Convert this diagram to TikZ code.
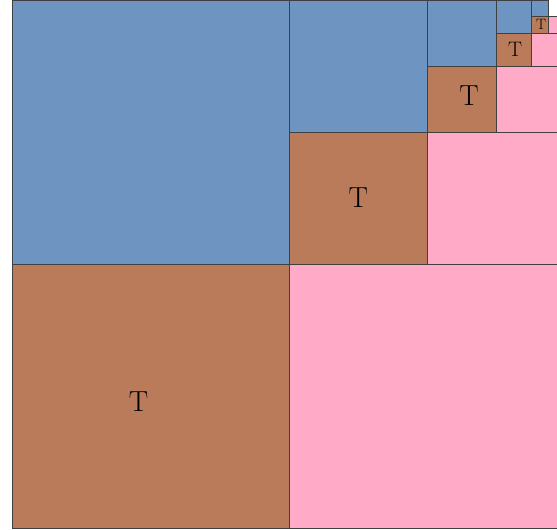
\documentclass[tikz,border=0pt]{standalone}
\usetikzlibrary{positioning}
\definecolor{cellblue}{HTML}{6E94C1}
\definecolor{cellbrown}{HTML}{B97B5A}
\definecolor{cellpink}{HTML}{FFAAC7}

\begin{document}
\begin{tikzpicture}[x=1pt, y=-1pt]
\tikzstyle{cell} = [rectangle, draw=black!75, line width=1pt,
    inner sep=0pt, outer sep=0pt, anchor=north west]
\tikzstyle{upper} = [cell, fill=cellblue]
\tikzstyle{tee} = [cell, fill=cellbrown]
\tikzstyle{rest} = [cell, fill=cellpink]

\useasboundingbox (0,0) rectangle (557,530);
\clip (0,0) rectangle (557,530);

% each level halves the one before it
\foreach \i/\fs/\dx/\dy in {0/29/-12/-6, 1/29/0/0, 2/29/7/3, 3/21/1/0, 4/15/1/0} {
  \pgfmathsetmacro{\w}{277/2^\i}
  \pgfmathsetmacro{\h}{264/2^\i}
  \pgfmathsetmacro{\x}{12 + 554*(1 - 1/2^\i)}
  \node (b\i) [upper, minimum width=\w pt, minimum height=\h pt] at (\x, 0) {};
  \node (t\i) [tee, minimum width=\w pt, minimum height=\h pt,
      label={[font=\fontsize{\fs}{\fs}\selectfont, xshift=\dx pt, yshift=\dy pt]center:T}]
      at (b\i.south west) {};
  \node (p\i) [rest, minimum width=\w pt, minimum height=\h pt] at (t\i.north east) {};
}
\end{tikzpicture}
\end{document}
